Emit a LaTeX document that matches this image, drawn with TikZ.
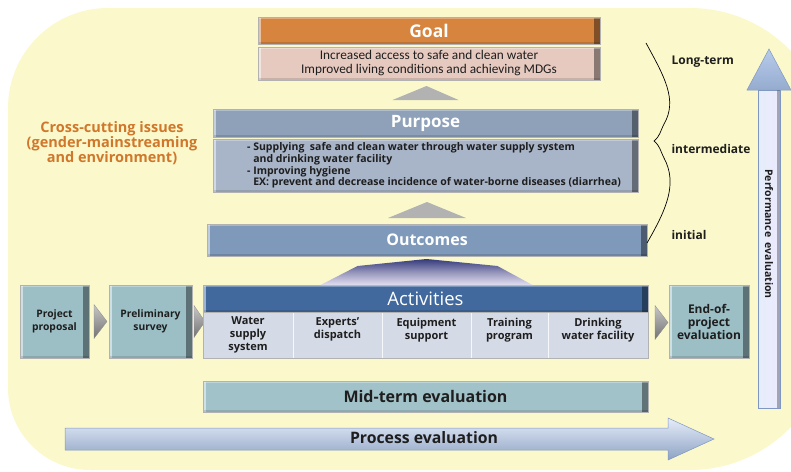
\documentclass[tikz,border=0pt]{standalone}
\usepackage{fontspec}
\setmainfont{Open Sans}
\newfontfamily\calibfont{Carlito}
\usepackage{tikz}
\usetikzlibrary{positioning}

\definecolor{backyellow}{HTML}{FBF9CB}
\definecolor{goalorange}{HTML}{D6843E}
\definecolor{goalpink}{HTML}{E6CAC0}
\definecolor{purposeblue}{HTML}{8EA1B8}
\definecolor{purposebody}{HTML}{A8B4C7}
\definecolor{outcomeblue}{HTML}{7F99BA}
\definecolor{actblue}{HTML}{41699D}
\definecolor{actcell}{HTML}{D4DAE6}
\definecolor{stepteal}{HTML}{9CBFC6}
\definecolor{midteal}{HTML}{A1C2C9}
\definecolor{arrowblue}{HTML}{A6BFE6}
\definecolor{arrowpale}{HTML}{E6EDF9}
\definecolor{arrowedge}{HTML}{7F97C2}
\definecolor{tentnavy}{HTML}{353A7A}
\definecolor{tentlilac}{HTML}{E2DEF0}
\definecolor{crossorange}{HTML}{D0772B}
\definecolor{textdark}{HTML}{1E1E1E}

\begin{document}
\begin{tikzpicture}[x=1pt,y=-1pt,
    box/.style={draw=black!30,line width=.4pt,inner sep=0pt,outer sep=0pt,anchor=north west},
    bevel/.style={path picture={
        \fill[black,opacity=.4] ([xshift=-#1]path picture bounding box.north east) rectangle (path picture bounding box.south east);
        \fill[white,opacity=.5] (path picture bounding box.north west) rectangle ([xshift=3pt]path picture bounding box.south west);
        \fill[white,opacity=.3] (path picture bounding box.north west) rectangle ([yshift=-1.5pt]path picture bounding box.north east);
        \fill[black,opacity=.12] (path picture bounding box.south west) rectangle ([yshift=2pt]path picture bounding box.south east);}},
    bevel/.default=6pt,
    headtext/.style={text=white,font=\fontsize{17}{20}\selectfont\bfseries},
    steptext/.style={align=center,text=textdark,font=\fontsize{10.3}{12.5}\selectfont\bfseries},
    cell/.style={box,fill=actcell,draw=white!80!actcell,minimum height=46pt,align=center,
        text=textdark,font=\fontsize{11}{13}\selectfont\bfseries},
    chevron/.style={top color=black!22,bottom color=black!55,draw=black!45,line width=.3pt},
    bigtri/.style={fill=black!30},
    stagelabel/.style={anchor=west,text=textdark,font=\fontsize{12}{14}\selectfont\bfseries}]

    \useasboundingbox (0,0) rectangle (791,471);
    \clip (0,0) rectangle (791,471);

    % backdrop
    \fill[backyellow] (108,8) -- (690,8) arc[start angle=-90,end angle=0,radius=140]
        -- (830,330) arc[start angle=0,end angle=90,radius=140]
        -- (90,470) arc[start angle=90,end angle=180,radius=82]
        -- (8,108) arc[start angle=180,end angle=270,radius=100] -- cycle;

    % Goal
    \node[box,bevel,fill=goalorange,minimum width=342pt,minimum height=27pt,headtext,
        font=\fontsize{17.5}{20}\selectfont\bfseries] (goal) at (258,17) {Goal};
    \node[box,bevel,fill=goalpink,minimum width=342pt,minimum height=33pt,align=center,text=textdark,
        font=\calibfont\fontsize{13.3}{14}\selectfont] (goaltext) at (258,47)
        {Increased access to safe and clean water\\Improved living conditions and achieving MDGs};

    % Purpose
    \node[box,bevel,fill=purposeblue,minimum width=425pt,minimum height=28pt,headtext] (purpose) at (213,109) {Purpose};
    \node[box,bevel,fill=purposebody,minimum width=425pt,minimum height=53pt] (purposebody) at (213,139) {};
    \node[anchor=west,inner sep=0pt,align=left,text=textdark,font=\fontsize{10.5}{11.7}\selectfont\bfseries]
        (purposelist) at ([xshift=34pt]purposebody.west)
        {- Supplying\ \ safe and clean water through water supply system\\
         \hphantom{- }and drinking water facility\\
         - Improving hygiene\\
         \hphantom{- }EX: prevent and decrease incidence of water-borne diseases (diarrhea)};

    % Outcomes
    \node[box,bevel,fill=outcomeblue,minimum width=440pt,minimum height=32pt,headtext,
        font=\fontsize{16}{19}\selectfont\bfseries] (outcomes) at (207,224) {Outcomes};

    % steps before activities
    \node[box,bevel,fill=stepteal,minimum width=69pt,minimum height=73pt,steptext] (proposal) at (20,285) {Project\\proposal};
    \node[box,bevel,fill=stepteal,minimum width=83pt,minimum height=73pt,steptext] (survey) at (109,285) {Preliminary\\survey};
    \path[chevron] ([shift={(5,-17)}]proposal.east) -- ([shift={(18,0)}]proposal.east) -- ([shift={(5,17)}]proposal.east) -- cycle;
    \path[chevron] ([shift={(2,-16)}]survey.east) -- ([shift={(13,0)}]survey.east) -- ([shift={(2,16)}]survey.east) -- cycle;

    % Activities
    \node[box,bevel,fill=actblue,minimum width=445pt,minimum height=27pt,text=white,
        font=\fontsize{18.5}{21}\selectfont] (activities) at (203,285) {Activities};
    \node[cell,minimum width=90pt] (watersupply) at (203,312) {Water\\supply\\system};
    \node[cell,minimum width=89pt,right=0pt of watersupply] (experts) {Experts'\\dispatch\\~};
    \node[cell,minimum width=89pt,right=0pt of experts] (equipment) {Equipment\\support\\~};
    \node[cell,minimum width=77pt,right=0pt of equipment] (training) {Training\\program\\~};
    \node[cell,minimum width=100pt,right=0pt of training] (drinking) {Drinking\\water facility\\~};
    \draw[black!30,line width=.4pt] (watersupply.north west) rectangle (drinking.south east);

    % End-of-project
    \node[box,bevel,fill=stepteal,minimum width=80pt,minimum height=73pt,align=center,text=textdark,
        font=\fontsize{12}{13}\selectfont\bfseries] (endeval) at (669,285) {End-of-\\project\\evaluation};
    \path[chevron] ([shift={(-14,-16)}]endeval.west) -- ([shift={(-1,1)}]endeval.west) -- ([shift={(-14,18)}]endeval.west) -- cycle;

    % upward triangles
    \fill[bigtri] ([shift={(-33,-9)}]purpose.north) -- ([shift={(1,-23)}]purpose.north) -- ([shift={(33,-9)}]purpose.north) -- cycle;
    \fill[bigtri] ([shift={(-39,-6)}]outcomes.north) -- ([shift={(0,-22)}]outcomes.north) -- ([shift={(39,-6)}]outcomes.north) -- cycle;
    \path[top color=tentnavy,bottom color=tentlilac,middle color=tentnavy!45!tentlilac] ([shift={(-105,0)}]activities.north)
        -- ([shift={(-68,-19)}]activities.north) -- ([shift={(1,-26)}]activities.north)
        -- ([shift={(72,-19)}]activities.north) -- ([shift={(107,0)}]activities.north) -- cycle;

    % Mid-term
    \node[box,bevel,fill=midteal,minimum width=445pt,minimum height=31pt,text=textdark,
        font=\fontsize{16}{18}\selectfont\bfseries] (midterm) at (203,381) {Mid-term evaluation};

    % Process evaluation arrow
    \path[draw=arrowedge,line width=.5pt,top color=arrowpale,bottom color=arrowblue!85!black]
        (65,428) -- (668,428) -- (668,418) -- (714,439) -- (668,460) -- (668,450) -- (65,450) -- cycle;
    \node[text=textdark,font=\fontsize{15.8}{18}\selectfont\bfseries] (process) at (424,438) {Process evaluation};

    % Performance evaluation arrow
    \path[draw=arrowedge,line width=.5pt,left color=arrowpale,right color=white!92!blue] (758,90) rectangle (780,408);
    \fill[black,opacity=.3] (777,90) rectangle (780,408);
    \path[draw=arrowedge,line width=.5pt,top color=arrowblue!80!white,bottom color=arrowblue!90!black] (747,90) -- (769,49) -- (791,90) -- cycle;
    \node[rotate=-90,text=textdark,font=\fontsize{10.5}{12}\selectfont\bfseries] (perftext) at (769,234) {Performance\ \ evaluation};

    % time frame
    \draw[line width=.7pt] (646,43) .. controls (664,76) and (678,100) .. (664,124)
        .. controls (660,132) and (660,136) .. (654,141) .. controls (660,146) and (660,150) .. (664,158)
        .. controls (678,184) and (666,210) .. (647,243);
    \node[stagelabel] (longterm) at (668,62) {Long-term};
    \node[stagelabel] (intermediate) at (668,149) {intermediate};
    \node[stagelabel] (initial) at (668,235) {initial};

    \node[align=center,text=crossorange,font=\fontsize{14.5}{15}\selectfont\bfseries] (crosscut) at (112,143)
        {Cross-cutting issues\\(gender-mainstreaming\\and environment)};
\end{tikzpicture}
\end{document}
